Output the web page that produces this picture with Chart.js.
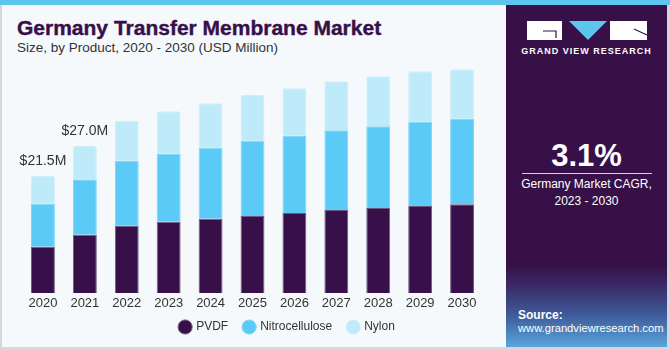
<!DOCTYPE html>
<html>
<head>
<meta charset="utf-8">
<script src="https://cdn.jsdelivr.net/npm/chart.js@4.4.0/dist/chart.umd.min.js"></script>
<style>
  html, body { margin: 0; padding: 0; }
  body { width: 670px; height: 350px; position: relative; overflow: hidden; background: #F5F9FC; font-family: "Liberation Sans", Arial, sans-serif; }
  #stripe { position: absolute; left: 0; top: 0; width: 670px; height: 5px; background: #5CC6EF; }
  #lborder { position: absolute; left: 0; top: 5px; width: 2px; height: 345px; background: #D4D8DC; }
  #bborder { position: absolute; left: 0; top: 347px; width: 670px; height: 3px; background: #D4D8DC; }
  #rborder { position: absolute; left: 667px; top: 5px; width: 3px; height: 345px; background: #D4D8DC; }
  #title { position: absolute; left: 17px; top: 16px; font-size: 21px; font-weight: bold; color: #37104A; -webkit-text-stroke: 0.4px #37104A; white-space: nowrap; }
  #subtitle { position: absolute; left: 17px; top: 40px; font-size: 13.5px; color: #333; white-space: nowrap; }
  #panel { position: absolute; left: 506px; top: 5px; width: 161px; height: 342px;
    background: linear-gradient(to bottom, #371047 0%, #371047 76%, #3a2a66 82%, #3f5d9c 91%, #5aa6dc 100%); }
  #chartbox { position: absolute; left: 0; top: 0; width: 505px; height: 355px; }
  .ptext { position: absolute; color: #fff; text-align: center; white-space: nowrap; }
</style>
</head>
<body>
<div id="stripe"></div>
<div id="panel"></div>
<div id="lborder"></div>
<div id="rborder"></div>
<div id="bborder"></div>
<div id="title">Germany Transfer Membrane Market</div>
<div id="subtitle">Size, by Product, 2020 - 2030 (USD Million)</div>

<svg style="position:absolute;left:0;top:0" width="670" height="350">
  <rect x="527" y="21" width="35" height="19" fill="#fff"/>
  <polyline points="543,31 556,31 556,38" fill="none" stroke="#37104A" stroke-width="1.2"/>
  <polygon points="569,21 607,21 588,40" fill="#5CC6EF"/>
  <rect x="610" y="21" width="37" height="19" fill="#fff"/>
  <line x1="634" y1="29" x2="647" y2="35" stroke="#37104A" stroke-width="1.2"/>
  <line x1="522" y1="173.5" x2="652" y2="173.5" stroke="#d8d0e0" stroke-width="1"/>
</svg>
<div class="ptext" style="left:506px;width:161px;top:46px;font-size:9px;font-weight:bold;letter-spacing:1px;">GRAND VIEW RESEARCH</div>
<div class="ptext" style="left:506px;width:161px;top:138px;font-size:31px;font-weight:bold;">3.1%</div>
<div class="ptext" style="left:506px;width:161px;top:176px;font-size:12px;line-height:17px;">Germany Market CAGR,<br>2023 - 2030</div>
<div class="ptext" style="left:518px;top:308px;font-size:12px;font-weight:bold;text-align:left;">Source:</div>
<div class="ptext" style="left:518px;top:322px;font-size:11.2px;text-align:left;">www.grandviewresearch.com</div>

<div id="chartbox"><canvas id="c" width="505" height="355"></canvas></div>

<script>
const categories = ["2020","2021","2022","2023","2024","2025","2026","2027","2028","2029","2030"];
const pvdf = [8.5, 10.7, 12.4, 13.1, 13.65, 14.15, 14.7, 15.25, 15.6, 16.0, 16.3];
const nitrocellulose = [7.9, 10.05, 11.9, 12.5, 13.05, 13.8, 14.2, 14.65, 15.05, 15.5, 15.7];
const nylon = [5.1, 6.25, 7.35, 7.8, 8.15, 8.4, 8.7, 9.0, 9.15, 9.25, 9.1];
const totalLabels = ["$21.5M", "$27.0M", "", "", "", "", "", "", "", "", ""];

const labelPlugin = {
  id: 'totals',
  afterDatasetsDraw(chart) {
    const ctx = chart.ctx;
    const xs = chart.scales.x, ys = chart.scales.y;
    ctx.save();
    ctx.font = '14px "Liberation Sans", Arial, sans-serif';
    ctx.fillStyle = '#333';
    ctx.textAlign = 'center';
    ctx.textBaseline = 'bottom';
    categories.forEach((c, i) => {
      if (!totalLabels[i]) return;
      const t = pvdf[i] + nitrocellulose[i] + nylon[i];
      ctx.fillText(totalLabels[i], xs.getPixelForValue(i), ys.getPixelForValue(t) - 8);
    });
    ctx.restore();
  }
};

const legendShift = {
  id: 'legendShift',
  afterLayout(chart) {
    const lg = chart.legend;
    if (lg) { lg.left += 35; lg.right += 35; lg.top -= 8; lg.bottom -= 8; }
  }
};

new Chart(document.getElementById('c'), {
  type: 'bar',
  data: {
    labels: categories,
    datasets: [
      { label: 'PVDF', data: pvdf, backgroundColor: '#37104A', borderColor: '#6E5A80', borderWidth: 1 },
      { label: 'Nitrocellulose', data: nitrocellulose, backgroundColor: '#5CCAF6', borderColor: '#7ED4F7', borderWidth: 1 },
      { label: 'Nylon', data: nylon, backgroundColor: '#BEEAFA', borderColor: '#CDEFFB', borderWidth: 1, borderRadius: {topLeft: 2, topRight: 2} }
    ]
  },
  options: {
    responsive: false,
    animation: false,
    devicePixelRatio: 1,
    layout: { padding: { left: 22, right: 22, top: 48, bottom: 4 } },
    datasets: { bar: { categoryPercentage: 1.0, barPercentage: 0.57 } },
    scales: {
      x: {
        stacked: true,
        grid: { display: false, drawTicks: false },
        border: { display: false },
        ticks: { color: '#333', font: { size: 13, family: '"Liberation Sans", Arial, sans-serif' }, padding: 3 },
        afterFit(scale) { scale.height = 20; }
      },
      y: {
        stacked: true,
        display: false,
        min: 0, max: 45
      }
    },
    plugins: {
      legend: {
        position: 'bottom',
        labels: {
          usePointStyle: true, pointStyle: 'circle', boxWidth: 10, boxHeight: 10,
          color: '#333', padding: 16,
          font: { size: 12, family: '"Liberation Sans", Arial, sans-serif' }
        }
      },
      tooltip: { enabled: false }
    }
  },
  plugins: [labelPlugin, legendShift]
});
</script>
</body>
</html>
